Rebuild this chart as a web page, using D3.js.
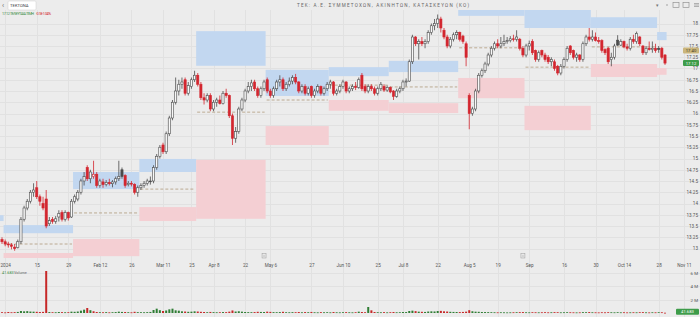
<!DOCTYPE html>
<html>
<head>
<meta charset="utf-8">
<script src="https://cdn.jsdelivr.net/npm/d3@7"></script>
<style>
  body { margin: 0; background: #ececec; }
  svg { display: block; font-family: Roboto, "DejaVu Sans", sans-serif; }
</style>
</head>
<body>
<svg id="chart" width="700" height="317"></svg>
<script>
"use strict";

/**
 * Daily candles of the ΤΕΚ share, with monthly pivot zones and volume.
 */

// x axis labels (bar index where each label sits)
const tickIdx = [1, 11, 21, 31, 41, 51, 60, 67, 77, 85, 98, 108, 119, 127, 138, 148, 157, 167, 178, 188, 197, 208, 216];
const tickLabels = ["2024", "15", "29", "Feb 12", "26", "Mar 11", "25", "Apr 8", "22", "May 6", "27", "Jun 10",
  "25", "Jul 8", "22", "Aug 5", "19", "Sep", "16", "30", "Oct 14", "28", "Nov 11"];

const opens = [
  13.2, 13.15, 13.1, 13.08, 13.03, 13.02, 13.15, 13.65, 13.9, 14.05,
  14.25, 14.35, 14.15, 14.0, 14.1, 13.55, 13.65, 13.6, 13.7, 13.8,
  13.65, 13.8, 13.7, 14.05, 14.1, 14.25, 14.5, 14.8, 14.55, 14.6,
  14.65, 14.4, 14.48, 14.42, 14.47, 14.44, 14.48, 14.55, 14.75, 14.62,
  14.42, 14.45, 14.42, 14.25, 14.35, 14.4, 14.45, 14.5, 14.5, 14.8,
  15.05, 15.3, 15.15, 15.55, 15.9, 16.25, 16.5, 16.65, 16.75, 16.45,
  16.6, 16.75, 16.85, 16.65, 16.35, 16.3, 16.4, 16.1, 16.25, 16.3,
  16.22, 16.45, 16.4, 15.95, 15.45, 15.6, 16.1, 16.3, 16.5, 16.6,
  16.7, 16.55, 16.4, 16.55, 16.75, 16.5, 16.4, 16.55, 16.7, 16.75,
  16.55, 16.65, 16.72, 16.8, 16.7, 16.5, 16.6, 16.45, 16.6, 16.4,
  16.5, 16.6, 16.45, 16.55, 16.65, 16.7, 16.45, 16.5, 16.6, 16.7,
  16.5, 16.55, 16.6, 16.58, 16.85, 16.6, 16.5, 16.6, 16.55, 16.45,
  16.55, 16.6, 16.52, 16.58, 16.5, 16.38, 16.5, 16.55, 16.7, 16.72,
  17.15, 17.7, 17.55, 17.6, 17.55, 17.6, 17.8, 17.95, 18.0, 18.1,
  17.85, 17.7, 17.5, 17.65, 17.75, 17.8, 17.72, 17.55, 16.4, 16.0,
  16.1, 16.5, 16.85, 16.95, 17.1, 17.3, 17.45, 17.55, 17.5, 17.55,
  17.6, 17.62, 17.66, 17.65, 17.65, 17.45, 17.3, 17.5, 17.6, 17.4,
  17.2, 17.4, 17.3, 17.25, 17.15, 17.15, 17.05, 16.9, 17.05, 17.2,
  17.5, 17.4, 17.25, 17.3, 17.2, 17.55, 17.7, 17.65, 17.7, 17.62,
  17.62, 17.42, 17.45, 17.2, 17.25, 17.63, 17.52, 17.6, 17.48, 17.45,
  17.65, 17.6, 17.7, 17.5, 17.35, 17.45, 17.42, 17.45, 17.45, 17.45, 17.3
];
const highs = [
  13.25, 13.2, 13.15, 13.12, 13.1, 13.2, 13.7, 13.95, 14.1, 14.3,
  14.45, 14.5, 14.2, 14.15, 14.3, 13.7, 13.7, 13.72, 13.85, 13.85,
  13.85, 13.82, 14.1, 14.2, 14.3, 14.55, 14.7, 14.85, 14.75, 14.95,
  14.7, 14.55, 14.55, 14.52, 14.55, 14.52, 14.6, 14.95, 14.8, 14.65,
  14.5, 14.5, 14.45, 14.4, 14.45, 14.5, 14.55, 14.6, 14.85, 15.1,
  15.3, 15.35, 15.6, 15.95, 16.3, 16.8, 16.75, 16.8, 16.8, 16.7,
  16.8, 16.95, 16.9, 16.7, 16.45, 16.45, 16.45, 16.3, 16.35, 16.4,
  16.5, 16.55, 16.42, 16.0, 15.7, 16.15, 16.35, 16.55, 16.7, 16.75,
  16.75, 16.6, 16.6, 16.75, 16.8, 16.55, 16.6, 16.75, 16.85, 16.8,
  16.7, 16.8, 16.85, 16.88, 16.72, 16.65, 16.65, 16.6, 16.62, 16.55,
  16.65, 16.62, 16.6, 16.7, 16.75, 16.72, 16.55, 16.65, 16.75, 16.72,
  16.6, 16.65, 16.7, 16.8, 16.9, 16.65, 16.65, 16.65, 16.6, 16.6,
  16.7, 16.65, 16.62, 16.6, 16.52, 16.55, 16.6, 16.75, 16.78, 17.2,
  17.75, 17.72, 17.65, 17.7, 17.65, 17.85, 18.0, 18.1, 18.2, 18.15,
  17.9, 17.75, 17.7, 17.8, 17.85, 17.82, 17.75, 17.6, 16.45, 16.15,
  16.55, 16.9, 17.0, 17.15, 17.35, 17.5, 17.6, 17.65, 17.7, 17.75,
  17.7, 17.72, 17.75, 17.85, 17.68, 17.5, 17.55, 17.62, 17.65, 17.42,
  17.4, 17.42, 17.35, 17.3, 17.25, 17.2, 17.08, 17.1, 17.25, 17.5,
  17.52, 17.42, 17.35, 17.32, 17.6, 17.75, 17.9, 17.85, 17.8, 17.7,
  17.65, 17.45, 17.48, 17.35, 17.55, 17.74, 17.65, 17.62, 17.55, 17.7,
  17.75, 17.82, 17.72, 17.52, 17.5, 17.6, 17.6, 17.55, 17.5, 17.48, 17.32
];
const lows = [
  13.1, 13.05, 13.02, 12.98, 12.95, 13.0, 13.1, 13.6, 13.85, 14.0,
  14.15, 14.1, 13.95, 13.85, 13.45, 13.5, 13.55, 13.55, 13.6, 13.6,
  13.6, 13.62, 13.68, 14.0, 14.05, 14.2, 14.4, 14.5, 14.45, 14.55,
  14.35, 14.35, 14.35, 14.38, 14.4, 14.36, 14.42, 14.5, 14.55, 14.35,
  14.38, 14.38, 14.2, 14.15, 14.3, 14.35, 14.4, 14.42, 14.45, 14.75,
  15.0, 15.1, 15.1, 15.5, 15.85, 16.2, 16.4, 16.55, 16.4, 16.4,
  16.55, 16.7, 16.6, 16.3, 16.2, 16.25, 16.05, 16.05, 16.15, 16.2,
  16.2, 16.35, 15.9, 15.3, 15.35, 15.55, 16.05, 16.25, 16.45, 16.5,
  16.5, 16.35, 16.35, 16.5, 16.45, 16.35, 16.35, 16.5, 16.6, 16.5,
  16.5, 16.6, 16.65, 16.65, 16.45, 16.45, 16.4, 16.4, 16.35, 16.35,
  16.45, 16.4, 16.4, 16.5, 16.55, 16.4, 16.4, 16.45, 16.55, 16.45,
  16.45, 16.5, 16.52, 16.55, 16.5, 16.45, 16.45, 16.5, 16.4, 16.4,
  16.5, 16.48, 16.48, 16.45, 16.3, 16.35, 16.45, 16.5, 16.6, 16.7,
  17.1, 17.5, 17.2, 17.5, 17.45, 17.55, 17.75, 17.85, 17.9, 17.8,
  17.65, 17.45, 17.45, 17.6, 17.65, 17.6, 17.55, 17.05, 15.65, 15.95,
  16.05, 16.45, 16.8, 16.9, 17.05, 17.25, 17.4, 17.45, 17.45, 17.5,
  17.55, 17.58, 17.6, 17.6, 17.4, 17.25, 17.25, 17.4, 17.3, 17.15,
  17.15, 17.25, 17.15, 17.1, 17.05, 16.95, 16.85, 16.85, 17.0, 17.15,
  17.3, 17.2, 17.15, 17.15, 17.15, 17.5, 17.6, 17.6, 17.6, 17.55,
  17.35, 17.3, 17.1, 17.05, 17.2, 17.5, 17.5, 17.45, 17.4, 17.4,
  17.55, 17.55, 17.5, 17.3, 17.3, 17.4, 17.35, 17.35, 17.35, 17.2, 17.08
];
const closes = [
  13.15, 13.1, 13.08, 13.05, 13.0, 13.15, 13.65, 13.9, 14.05, 14.25,
  14.3, 14.15, 14.05, 13.9, 13.5, 13.62, 13.6, 13.66, 13.78, 13.65,
  13.8, 13.68, 14.05, 14.15, 14.25, 14.5, 14.6, 14.55, 14.7, 14.65,
  14.4, 14.5, 14.42, 14.47, 14.44, 14.48, 14.55, 14.6, 14.6, 14.4,
  14.45, 14.43, 14.25, 14.35, 14.4, 14.45, 14.5, 14.5, 14.8, 15.05,
  15.25, 15.15, 15.55, 15.9, 16.25, 16.5, 16.65, 16.7, 16.45, 16.62,
  16.75, 16.85, 16.65, 16.35, 16.3, 16.4, 16.1, 16.25, 16.3, 16.22,
  16.45, 16.4, 15.95, 15.45, 15.6, 16.1, 16.3, 16.5, 16.6, 16.68,
  16.55, 16.4, 16.55, 16.7, 16.5, 16.4, 16.55, 16.7, 16.75, 16.55,
  16.65, 16.72, 16.8, 16.7, 16.5, 16.6, 16.45, 16.55, 16.4, 16.5,
  16.6, 16.45, 16.55, 16.65, 16.7, 16.45, 16.5, 16.6, 16.7, 16.5,
  16.55, 16.6, 16.58, 16.75, 16.55, 16.5, 16.6, 16.55, 16.45, 16.55,
  16.65, 16.52, 16.58, 16.48, 16.38, 16.5, 16.55, 16.7, 16.72, 17.15,
  17.7, 17.55, 17.6, 17.55, 17.6, 17.8, 17.95, 18.0, 18.1, 17.9,
  17.7, 17.5, 17.65, 17.75, 17.8, 17.65, 17.6, 17.25, 16.0, 16.1,
  16.5, 16.85, 16.95, 17.1, 17.3, 17.45, 17.55, 17.5, 17.55, 17.6,
  17.62, 17.66, 17.65, 17.7, 17.45, 17.3, 17.5, 17.55, 17.35, 17.2,
  17.35, 17.3, 17.2, 17.15, 17.2, 17.0, 16.9, 17.05, 17.2, 17.45,
  17.35, 17.25, 17.3, 17.2, 17.55, 17.7, 17.65, 17.7, 17.62, 17.6,
  17.4, 17.35, 17.15, 17.25, 17.5, 17.52, 17.6, 17.48, 17.45, 17.65,
  17.6, 17.78, 17.55, 17.35, 17.45, 17.42, 17.45, 17.4, 17.42, 17.25, 17.12
];
// volume, thousands of shares
const volumes = [
  120, 90, 150, 110, 130, 160, 300, 250, 280, 220,
  200, 180, 150, 170, 6300, 140, 120, 110, 150, 130,
  110, 120, 200, 180, 220, 350, 500, 750, 420, 260,
  150, 120, 110, 130, 100, 120, 140, 200, 160, 150,
  120, 100, 180, 130, 120, 110, 130, 160, 450, 650,
  420, 300, 380, 550, 650, 400, 350, 250, 220, 180,
  200, 250, 220, 180, 150, 120, 160, 130, 110, 120,
  140, 130, 200, 380, 220, 260, 200, 150, 130, 120,
  140, 180, 160, 150, 200, 170, 130, 120, 140, 180,
  120, 110, 130, 120, 150, 110, 140, 120, 160, 110,
  100, 130, 110, 120, 100, 150, 110, 100, 120, 130,
  110, 100, 120, 200, 150, 120, 900, 400, 150, 120,
  110, 130, 100, 120, 150, 110, 120, 150, 140, 300,
  350, 280, 200, 180, 160, 220, 250, 230, 300, 320,
  250, 220, 180, 160, 150, 140, 160, 200, 420, 260,
  200, 180, 150, 140, 130, 120, 110, 100, 110, 100,
  90, 100, 110, 120, 130, 140, 110, 100, 120, 110,
  100, 110, 120, 100, 110, 130, 120, 100, 110, 120,
  110, 100, 90, 100, 130, 120, 140, 110, 100, 90,
  110, 100, 120, 110, 100, 120, 100, 110, 90, 100,
  110, 100, 120, 130, 100, 90, 110, 100, 120, 110, 42
];

// monthly zones: first bar of each month, resistance (blue), support (pink), pivot
const monthStart = [-1, 1, 23, 44, 62, 84, 104, 123, 145, 166, 187, 208];
const blueLo = [13.61, 13.34, 14.32, 14.70, 17.06, 16.39, 16.83, 16.92, 18.17, 17.90, 17.90, 17.63];
const blueHi = [13.74, 13.52, 14.70, 14.99, 17.83, 16.97, 17.03, 17.17, 18.40, 18.40, 18.14, 17.81];
const pinkLo = [null, 12.77, 12.83, 13.61, 13.66, 15.30, 16.06, 16.01, 16.34, 15.63, 16.81, 16.86];
const pinkHi = [null, 12.90, 13.21, 13.92, 14.97, 15.72, 16.30, 16.23, 16.79, 16.17, 17.10, 17.01];
const pivots = [null, 13.10, 13.79, 14.32, 16.03, 16.30, 16.63, 16.59, 17.46, 17.03, 17.48, null];

const eventIdx = [83, 165];
const lastTag = 17.12, refTag = 17.40;

const svg = d3.select("#chart");
const plot = { right: 668, top: 10, bottom: 258 };

const x = d3.scaleLinear().domain([0, 210]).range([2, 665]);
const y = d3.scaleLinear().domain([13, 18]).range([248.5, 23.5]);
const yVol = d3.scaleLinear().domain([0, 6000]).range([313, 273]);

const bars = d3.range(closes.length).map(i => ({
  i: i, o: opens[i], h: highs[i], l: lows[i], c: closes[i], v: volumes[i],
  prev: i > 0 ? closes[i - 1] : opens[i]
}));

const upColor = "#4b4b4b", downColor = "#d3262f";

svg.append("defs").append("clipPath").attr("id", "plotClip")
  .append("rect").attr("x", 0).attr("y", plot.top).attr("width", plot.right).attr("height", plot.bottom - plot.top);

/**
 * Grid lines for both panes.
 */
function createGrid(g) {
  g.selectAll("line.h")
    .data(d3.range(13, 18.01, 0.25))
    .enter().append("line")
    .attr("x1", 0).attr("x2", 700)
    .attr("y1", d => Math.round(y(d)) + 0.5).attr("y2", d => Math.round(y(d)) + 0.5)
    .attr("stroke", "#e1e1e1");

  g.selectAll("line.v")
    .data(tickIdx)
    .enter().append("line")
    .attr("x1", d => Math.round(x(d)) + 0.5).attr("x2", d => Math.round(x(d)) + 0.5)
    .attr("y1", plot.top).attr("y2", 317)
    .attr("stroke", "#e1e1e1");

  g.selectAll("line.vol")
    .data([2000, 4000, 6000])
    .enter().append("line")
    .attr("x1", 0).attr("x2", 700)
    .attr("y1", d => Math.round(yVol(d)) + 0.5).attr("y2", d => Math.round(yVol(d)) + 0.5)
    .attr("stroke", "#e1e1e1");
}

/**
 * Monthly resistance / support boxes and the dashed pivot line.
 */
function createZones(g) {
  let zones = monthStart.map((s, k) => ({
    x0: x(s - 0.5),
    x1: x((k + 1 < monthStart.length ? monthStart[k + 1] : closes.length) - 0.5),
    bLo: blueLo[k], bHi: blueHi[k], pLo: pinkLo[k], pHi: pinkHi[k], pv: pivots[k]
  }));

  g.selectAll("rect.blue")
    .data(zones)
    .enter().append("rect")
    .attr("x", d => d.x0).attr("width", d => d.x1 - d.x0)
    .attr("y", d => y(d.bHi)).attr("height", d => y(d.bLo) - y(d.bHi))
    .attr("fill", "#c2d7f0");

  g.selectAll("rect.pink")
    .data(zones.filter(d => d.pLo != null))
    .enter().append("rect")
    .attr("x", d => d.x0).attr("width", d => d.x1 - d.x0)
    .attr("y", d => y(d.pHi)).attr("height", d => y(d.pLo) - y(d.pHi))
    .attr("fill", "#f4cfd3");

  g.selectAll("line.pivot")
    .data(zones.filter(d => d.pv != null))
    .enter().append("line")
    .attr("x1", d => d.x0 + 1).attr("x2", d => d.x1 - 1)
    .attr("y1", d => y(d.pv)).attr("y2", d => y(d.pv))
    .attr("stroke", "#b09a7c").attr("stroke-width", 0.8)
    .attr("stroke-dasharray", "3,2");
}

/**
 * Hollow candles: colour follows the previous close, fill follows open/close.
 */
function createCandles(g) {
  let colorOf = d => d.c >= d.prev ? upColor : downColor;

  let candle = g.selectAll("g.candle")
    .data(bars)
    .enter().append("g");

  candle.append("line")
    .attr("x1", d => x(d.i)).attr("x2", d => x(d.i))
    .attr("y1", d => y(d.h)).attr("y2", d => y(d.l))
    .attr("stroke", colorOf).attr("stroke-width", 0.8);

  candle.append("rect")
    .attr("x", d => x(d.i) - 1.1).attr("width", 2.2)
    .attr("y", d => y(Math.max(d.o, d.c)))
    .attr("height", d => Math.max(0.8, Math.abs(y(d.o) - y(d.c))))
    .attr("fill", d => d.c > d.o ? "#f8f8f8" : colorOf(d))
    .attr("stroke", colorOf).attr("stroke-width", 0.6);
}

function createVolume(g) {
  g.selectAll("rect")
    .data(bars)
    .enter().append("rect")
    .attr("x", d => x(d.i) - 1).attr("width", 2)
    .attr("y", d => yVol(d.v)).attr("height", d => Math.max(0.8, yVol(0) - yVol(d.v)))
    .attr("fill", d => d.c >= d.prev ? "#2f7d34" : "#c62828");
}

function createAxes() {
  let yAxis = svg.append("g")
    .attr("transform", "translate(668,0)")
    .call(d3.axisRight(y).tickValues(d3.range(13, 18.01, 0.25)).tickSize(0).tickFormat(d3.format("")));
  yAxis.select(".domain").remove();
  yAxis.selectAll("text").attr("x", 30).attr("text-anchor", "end")
    .attr("font-size", 4.6).attr("fill", "#555").attr("font-family", "Roboto, sans-serif");

  let vAxis = svg.append("g")
    .attr("transform", "translate(668,0)")
    .call(d3.axisRight(yVol).tickValues([2000, 4000, 6000]).tickSize(0).tickFormat(d => d / 1000 + " M"));
  vAxis.select(".domain").remove();
  vAxis.selectAll("text").attr("x", 30).attr("text-anchor", "end")
    .attr("font-size", 4.4).attr("fill", "#555").attr("font-family", "Roboto, sans-serif");

  let xAxis = svg.append("g")
    .attr("transform", "translate(0,263)")
    .call(d3.axisBottom(x).tickValues(tickIdx).tickSize(0).tickFormat((d, i) => tickLabels[i]));
  xAxis.select(".domain").remove();
  xAxis.selectAll("text").attr("y", 1)
    .attr("font-size", 4.6).attr("fill", "#555").attr("font-family", "Roboto, sans-serif");
}

/**
 * Small price / volume tags on the right edge.
 */
function createTags() {
  let tags = [
    { v: y(refTag), text: refTag.toFixed(2), fill: "#cbb67c", color: "#3a3320" },
    { v: y(lastTag), text: lastTag.toFixed(2), fill: "#3e9c4a", color: "#fff" },
    { v: yVol(volumes[volumes.length - 1]) - 1, text: "41.683", fill: "#3e9c4a", color: "#fff" }
  ];
  let tag = svg.selectAll("g.tag").data(tags).enter().append("g");
  tag.append("rect")
    .attr("x", (d, i) => i < 2 ? 683 : 676).attr("width", (d, i) => i < 2 ? 16 : 23)
    .attr("y", d => d.v - 3).attr("height", 6).attr("rx", 1)
    .attr("fill", d => d.fill);
  tag.append("text")
    .attr("x", (d, i) => i < 2 ? 691 : 687.5).attr("y", d => d.v + 1.6)
    .attr("text-anchor", "middle").attr("font-size", 4.2)
    .attr("fill", d => d.color).text(d => d.text);
}

function createHeader() {
  svg.append("text").attr("x", 2).attr("y", 8).attr("font-size", 7).attr("fill", "#666").text("‹");
  svg.append("rect").attr("x", 8).attr("y", 1).attr("width", 28).attr("height", 9).attr("rx", 1)
    .attr("fill", "#fff").attr("stroke", "#cfcfcf").attr("stroke-width", 0.5);
  svg.append("text").attr("x", 10).attr("y", 7.3).attr("font-size", 4.2).attr("fill", "#444").text("ΤΕΚΤΩΝΑ");

  svg.append("text").attr("x", 383).attr("y", 7).attr("text-anchor", "middle")
    .attr("font-size", 4.6).attr("fill", "#666").attr("textLength", 172)
    .text("ΤΕΚ: Α.Ε. ΣΥΜΜΕΤΟΧΩΝ, ΑΚΙΝΗΤΩΝ, ΚΑΤΑΣΚΕΥΩΝ (ΚΟ)");

  svg.append("text").attr("x", 2).attr("y", 15).attr("font-size", 3.8).attr("fill", "#3c8c44")
    .attr("textLength", 32).text("17.12 ΤΕΛΕΥΤΑΙΑ ΤΙΜΗ");
  svg.append("text").attr("x", 36).attr("y", 15).attr("font-size", 3.8).attr("fill", "#d3262f")
    .attr("textLength", 15).text("-0.18 -1.04%");

  // toolbar icons on the right
  svg.append("text").attr("x", 656).attr("y", 7).attr("font-size", 5).attr("fill", "#777").text("▾");
  svg.append("circle").attr("cx", 667).attr("cy", 5).attr("r", 0.8).attr("fill", "#999");
  [673, 683].forEach(px => svg.append("rect").attr("x", px).attr("y", 2.5).attr("width", 6).attr("height", 5)
    .attr("fill", "none").attr("stroke", "#888").attr("stroke-width", 0.6));
  [3.5, 5, 6.5].forEach(py => svg.append("line").attr("x1", 694).attr("x2", 699).attr("y1", py).attr("y2", py)
    .attr("stroke", "#888").attr("stroke-width", 0.6));

  svg.append("text").attr("x", 2).attr("y", 273.5).attr("font-size", 3.8).attr("fill", "#3c8c44").text("41.683");
  svg.append("text").attr("x", 14).attr("y", 273.5).attr("font-size", 3.8).attr("fill", "#666").text("Volume");
}

function createEvents(g) {
  let ev = g.selectAll("g.ev").data(eventIdx).enter().append("g")
    .attr("transform", d => "translate(" + x(d) + ",256)");
  ev.append("rect").attr("x", -2).attr("y", -2.5).attr("width", 4).attr("height", 4.5)
    .attr("fill", "#e8e8e8").attr("stroke", "#9a9a9a").attr("stroke-width", 0.5);
  ev.append("line").attr("x1", -1).attr("x2", 1).attr("y1", 0).attr("y2", 0)
    .attr("stroke", "#9a9a9a").attr("stroke-width", 0.5);
}

createGrid(svg.append("g"));
let plotG = svg.append("g").attr("clip-path", "url(#plotClip)");
createZones(plotG);
createCandles(plotG);
createVolume(svg.append("g"));
createEvents(svg.append("g"));
createAxes();
createTags();
createHeader();
</script>
</body>
</html>
